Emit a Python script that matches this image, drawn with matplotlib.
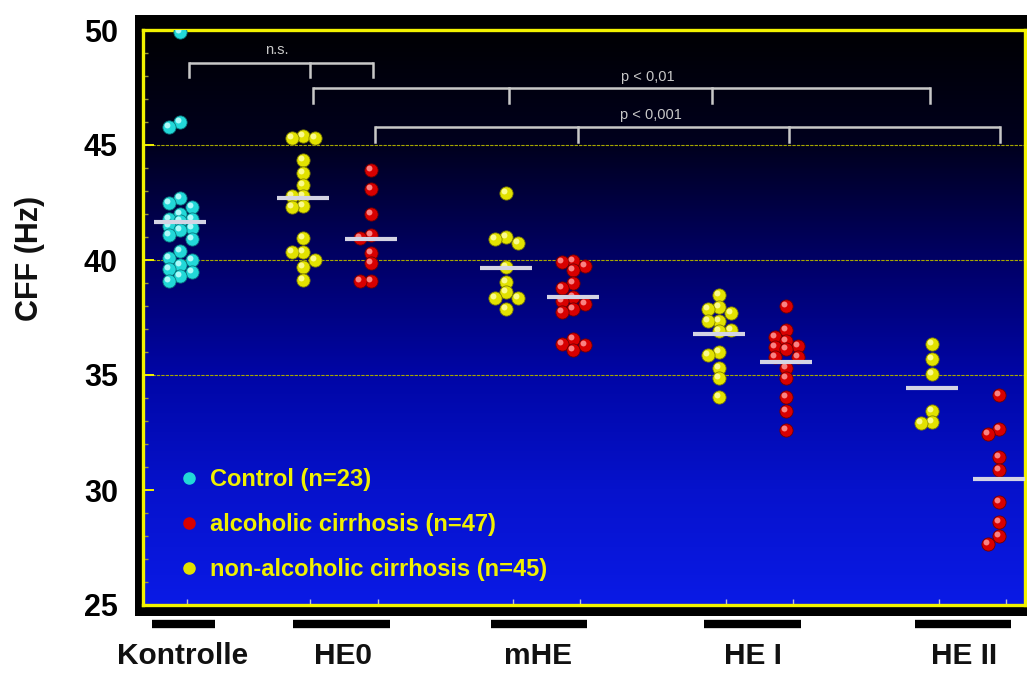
import numpy as np
import matplotlib
matplotlib.use('Agg')
import matplotlib.pyplot as plt
import matplotlib.transforms as mtransforms
from matplotlib.colors import LinearSegmentedColormap
from matplotlib.lines import Line2D
from matplotlib.patches import Rectangle

plt.rcParams['font.family'] = ['Liberation Sans', 'DejaVu Sans']

# --- data (CFF in Hz) ---
groups = ['Kontrolle', 'HE0', 'mHE', 'HE I', 'HE II']

control = [49.9, 46.0, 45.8, 42.7, 42.5, 42.3, 42.0, 41.8, 41.8, 41.7, 41.5, 41.4,
           41.3, 41.1, 40.9, 40.4, 40.1, 40.0, 39.8, 39.6, 39.5, 39.3, 39.1]
he0_nonalc = [45.4, 45.3, 45.3, 44.35, 43.8, 43.25, 42.8, 42.8, 42.35, 42.3,
              40.95, 40.35, 40.35, 40.0, 39.7, 39.15]
he0_alc = [43.9, 43.1, 42.0, 41.1, 40.95, 40.3, 39.85, 39.1, 39.1]
mhe_nonalc = [42.9, 41.0, 40.9, 40.75, 39.7, 39.05, 38.6, 38.35, 38.35, 37.85]
mhe_alc = [39.95, 39.9, 39.75, 39.55, 39.0, 38.8, 38.4, 38.2, 38.1, 37.85, 37.75,
           36.55, 36.35, 36.3, 36.1]
hei_nonalc = [38.5, 37.95, 37.85, 37.7, 37.35, 37.35, 36.95, 36.9, 36.0, 35.85,
              35.3, 34.85, 34.05]
hei_alc = [38.0, 36.95, 36.65, 36.5, 36.25, 36.2, 36.15, 35.8, 35.8, 35.3, 34.85,
           34.05, 33.45, 32.6]
heii_nonalc = [36.35, 35.7, 35.05, 33.45, 32.95, 32.9]
heii_alc = [34.15, 32.65, 32.45, 31.45, 30.85, 29.5, 28.6, 28.0, 27.65]

# median bars
medians = [41.67, 42.7, 40.9, 39.67, 38.38, 36.77, 35.58, 34.42, 30.48]

legend_labels = ['Control (n=23)', 'alcoholic cirrhosis (n=47)',
                 'non-alcoholic cirrhosis (n=45)']

# --- layout (x axis runs in pixel-like units) ---
column_x = [180, 303, 371, 506, 573, 719, 786, 932, 999]
group_bar = [(152, 215), (293, 390), (491, 587), (704, 801), (915, 1011)]
group_label_x = [183, 343, 538, 753, 964]

cyan = ('#22d8d8', '#0a7a80', '#c8ffff')
red = ('#d80000', '#700000', '#ff9a9a')
yellow = ('#e2e200', '#808000', '#ffffa8')

columns = [(control, cyan), (he0_nonalc, yellow), (he0_alc, red),
           (mhe_nonalc, yellow), (mhe_alc, red),
           (hei_nonalc, yellow), (hei_alc, red),
           (heii_nonalc, yellow), (heii_alc, red)]


def swarm(vals, x0, step=11.5, min_gap=0.41):
    # three-lane dot plot: centre lane first, sides when crowded
    vals = np.asarray(vals)
    xs = np.zeros(len(vals))
    lanes = {0: [], -1: [], 1: []}
    for i in np.argsort(-vals, kind='stable'):
        v = vals[i]
        gaps = {k: min([abs(v - p) for p in lanes[k]], default=99) for k in (0, -1, 1)}
        free = [k for k in (0, -1, 1) if gaps[k] >= min_gap]
        k = free[0] if free else max(gaps, key=gaps.get)
        lanes[k].append(v)
        xs[i] = x0 + k * step
    return xs


fig = plt.figure(figsize=(10.27, 6.74), dpi=100)
fig.patch.set_facecolor('white')

# black outer frame
fig.patches.append(Rectangle((135 / 1027, 1 - 616 / 674), 1 - 135 / 1027, (616 - 15) / 674,
                             transform=fig.transFigure, facecolor='black', zorder=-10))

ax = fig.add_axes([143 / 1027, 1 - 605 / 674, 882 / 1027, 575 / 674])
ax.set_zorder(1)
ax.set_xlim(143, 1025)
ax.set_ylim(25, 50)

# background gradient
cmap = LinearSegmentedColormap.from_list('bg', [
    (0.0, '#0a1ae6'), (0.2, '#0612cc'), (0.4, '#0006a6'),
    (0.6, '#000066'), (0.8, '#00001e'), (1.0, '#000003')])
grad = np.linspace(0, 1, 256).reshape(-1, 1)
ax.imshow(grad, aspect='auto', cmap=cmap, origin='lower',
          extent=(143, 1025, 25, 50), zorder=0)

for yv in [35, 40, 45]:
    ax.axhline(yv, color='#a8a800', lw=0.8, ls=(0, (3, 1)), zorder=1)

for sp in ax.spines.values():
    sp.set_color('#f2f200')
    sp.set_linewidth(2.4)

ax.set_yticks(np.arange(25, 51, 5))
ax.set_yticks(np.arange(25, 51, 1), minor=True)
ax.tick_params(axis='y', which='major', direction='in', length=8, width=1.4,
               color='#f2f200', labelsize=22, pad=18)
ax.tick_params(axis='y', which='minor', direction='in', length=3.5, width=1,
               color='#9a9a30')
for lab in ax.get_yticklabels():
    lab.set_fontweight('bold')
ax.set_xticks([x + 7 for x in column_x])
ax.tick_params(axis='x', which='major', direction='in', length=4, width=1,
               color='#c0c0d0', labelbottom=False)

# points
hl = mtransforms.offset_copy(ax.transData, fig=fig, x=-2, y=2, units='dots')
for (vals, (face, edge, light)), x0, med in zip(columns, column_x, medians):
    xs = swarm(vals, x0)
    ax.scatter(xs, vals, s=90, c=face, edgecolors=edge, linewidths=0.6, zorder=4)
    ax.scatter(xs, vals, s=18, c=light, linewidths=0, alpha=0.85, zorder=5,
               transform=hl)
    ax.hlines(med, x0 - 26, x0 + 26, color='#d4d4e4', lw=3, zorder=6)

# significance brackets
br_col = '#c8c8c8'


def bracket(xs, y_line, y_foot, text, y_text, x_text):
    ax.plot([xs[0], xs[-1]], [y_line, y_line], color=br_col, lw=1.8, zorder=3,
            solid_capstyle='butt')
    for x in xs:
        ax.plot([x, x], [y_line, y_foot], color=br_col, lw=1.8, zorder=3)
    ax.text(x_text, y_text, text, color=br_col, fontsize=10.5, ha='center', va='center')


bracket([189, 310, 373], 48.58, 47.96, 'n.s.', 49.13, 277)
bracket([313, 509, 712, 930], 47.48, 46.83, 'p < 0,01', 47.95, 648)
bracket([375, 578, 789, 1000], 45.78, 45.13, 'p < 0,001', 46.3, 651)

# group bars and labels under the axis
trans = mtransforms.blended_transform_factory(ax.transData, ax.transAxes)
for (x0, x1), lx, name in zip(group_bar, group_label_x, groups):
    ax.plot([x0, x1], [-0.033, -0.033], color='black', lw=6, transform=trans,
            clip_on=False, solid_capstyle='butt')
    ax.text(lx, -0.089, name, transform=trans, ha='center', va='center',
            fontsize=21.5, fontweight='bold', color='#111111')

fig.text(30 / 1027, 1 - 258 / 674, 'CFF (Hz)', rotation=90, ha='center', va='center',
         fontsize=22, fontweight='bold', color='#111111')

# legend
handles = [Line2D([], [], marker='o', ls='none', markersize=8,
                  markerfacecolor=c[0], markeredgecolor=c[0])
           for c in (cyan, red, yellow)]
ax.legend(handles, legend_labels, loc='upper left', bbox_to_anchor=(0.033, 0.254),
          frameon=False, prop=dict(weight='bold', size=17), labelcolor='#f0f000',
          labelspacing=0.92, handlelength=0.6, handletextpad=0.6, borderpad=0.4,
          borderaxespad=0)

fig.savefig('out.png', dpi=100)
